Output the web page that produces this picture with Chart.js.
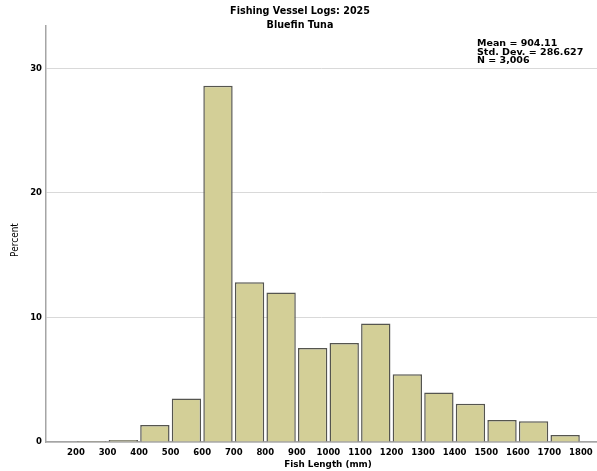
<!DOCTYPE html>
<html>
<head>
<meta charset="utf-8">
<script src="https://cdn.jsdelivr.net/npm/chart.js@4"></script>
<style>
  html, body { margin: 0; padding: 0; background: #fff; }
  #wrap { width: 597px; height: 471px; }
</style>
</head>
<body>
<div id="wrap"><canvas id="chart"></canvas></div>
<script>
// Histogram data (percent per 100 mm bin)
const binStarts = [200, 300, 400, 500, 600, 700, 800, 900, 1000, 1100, 1200, 1300, 1400, 1500, 1600, 1700];
const binWidth = 100;
const percents = [0.08, 0.17, 1.36, 3.5, 28.6, 12.83, 12.0, 7.54, 7.94, 9.52, 5.43, 3.98, 3.07, 1.76, 1.66, 0.56];
const xTicks = [200, 300, 400, 500, 600, 700, 800, 900, 1000, 1100, 1200, 1300, 1400, 1500, 1600, 1700, 1800];
const yTicks = [0, 10, 20, 30];
const titleLines = ['Fishing Vessel Logs: 2025', 'Bluefin Tuna'];
const statLines = ['Mean = 904.11', 'Std. Dev. = 286.627', 'N = 3,006'];

const BOLD = 'DejaVu Sans';

// titles, stats box and axis titles
const textPlugin = {
  id: 'texts',
  afterDraw(chart) {
    const ctx = chart.ctx;
    ctx.save();
    ctx.fillStyle = '#000';
    ctx.textBaseline = 'middle';

    ctx.textAlign = 'center';
    ctx.font = `bold 9.6px "${BOLD}"`;
    ctx.fillText(titleLines[0], 300, 11);
    ctx.fillText(titleLines[1], 300, 25);

    ctx.textAlign = 'left';
    ctx.font = `bold 9.5px "${BOLD}"`;
    statLines.forEach((s, i) => ctx.fillText(s, 477, 44 + i * 8.3));

    ctx.textAlign = 'center';
    ctx.font = `bold 8.8px "${BOLD}"`;
    ctx.fillText('Fish Length (mm)', 328, 465);

    ctx.translate(15, 240);
    ctx.rotate(-Math.PI / 2);
    ctx.font = '10px "Liberation Sans Narrow", "DejaVu Sans Condensed", sans-serif';
    ctx.fillText('Percent', 0, 0);
    ctx.restore();
  }
};

new Chart(document.getElementById('chart'), {
  type: 'bar',
  data: {
    datasets: [{
      data: binStarts.map((b, i) => ({x: b + binWidth / 2, y: percents[i]})),
      backgroundColor: '#d3cf97',
      borderColor: '#55554f',
      borderWidth: 1.5,
      barPercentage: 0.93,
      categoryPercentage: 1,
    }]
  },
  options: {
    responsive: true,
    maintainAspectRatio: false,
    animation: false,
    layout: {padding: {top: 26, right: 0, left: 30, bottom: 16}},
    plugins: {legend: {display: false}, tooltip: {enabled: false}},
    scales: {
      x: {
        type: 'linear',
        offset: false,
        min: 105,
        max: 1851,
        afterBuildTicks: s => { s.ticks = xTicks.map(v => ({value: v})); },
        afterFit: s => { s.height = 13; },
        grid: {display: false},
        border: {display: true, color: '#a5a5a5', width: 1.5},
        ticks: {
          color: '#000',
          font: {family: BOLD, size: 8.5, weight: 'bold'},
          padding: -2,
          maxRotation: 0,
          autoSkip: false,
          callback: v => String(v),
        },
      },
      y: {
        min: 0,
        max: 33.4,
        afterBuildTicks: s => { s.ticks = yTicks.map(v => ({value: v})); },
        afterFit: s => { s.width = 16; },
        grid: {color: '#d9d9d9', lineWidth: 1, drawTicks: false},
        border: {display: true, color: '#a5a5a5', width: 1.5},
        ticks: {
          color: '#000',
          font: {family: BOLD, size: 8.5, weight: 'bold'},
          padding: 4,
        },
      },
    },
  },
  plugins: [textPlugin],
});
</script>
</body>
</html>
